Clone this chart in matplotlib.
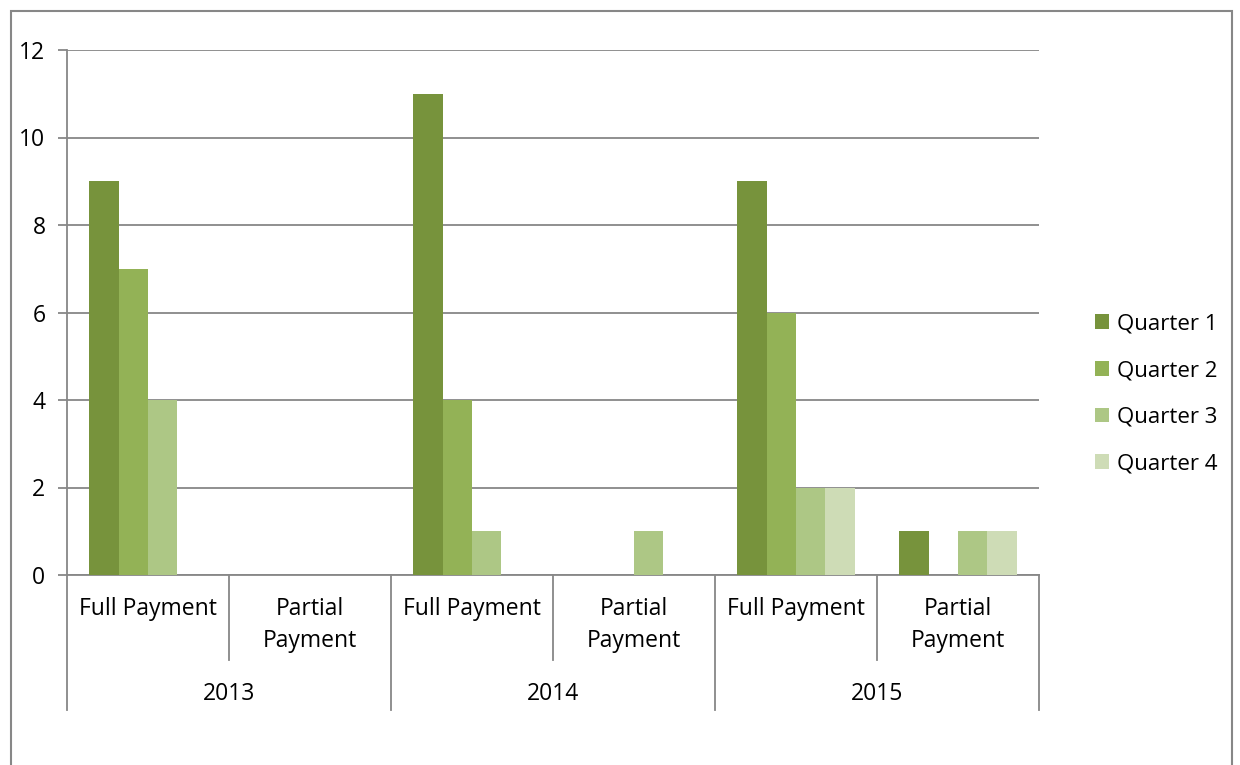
import matplotlib.pyplot as plt
from matplotlib.patches import Rectangle
from matplotlib.transforms import blended_transform_factory
import numpy as np

plt.rcParams['font.family'] = ['Open Sans', 'DejaVu Sans']

years = ["2013", "2014", "2015"]
payment_types = ["Full Payment", "Partial\nPayment"]
quarters = ["Quarter 1", "Quarter 2", "Quarter 3", "Quarter 4"]
# one value per (year, payment type) slot, in order 2013 full, 2013 partial, ...
q1 = [9, 0, 11, 0, 9, 1]
q2 = [7, 0, 4, 0, 6, 0]
q3 = [4, 0, 1, 1, 2, 1]
q4 = [0, 0, 0, 0, 2, 1]
colors = ["#77933C", "#93B256", "#ADC785", "#CEDCB6"]

W, H = 1240, 765
FS = 16.5
fig = plt.figure(figsize=(W / 100, H / 100), dpi=100)
ax = fig.add_axes([67 / W, 1 - 575 / H, (1039 - 67) / W, (575 - 50) / H])

series = [q1, q2, q3, q4]
n_slots = len(q1)
x = np.arange(n_slots)
bw = 1 / 5.5
for i, (vals, c, lab) in enumerate(zip(series, colors, quarters)):
    ax.bar(x + 0.75 * bw + i * bw, vals, width=bw, align='edge', color=c, label=lab,
           edgecolor='none', zorder=3)

ax.set_xlim(0, n_slots)
ax.set_ylim(0, 12)
ax.set_yticks(range(0, 13, 2))
ax.set_xticks([])
ax.grid(axis='y', color='#878787', linewidth=1.3, zorder=0)
for s in ['top', 'right']:
    ax.spines[s].set_visible(False)
for s in ['left', 'bottom']:
    ax.spines[s].set_color('#878787')
    ax.spines[s].set_linewidth(1.3)
ax.tick_params(axis='y', direction='out', length=6.5, width=1.3, color='#878787',
               labelsize=FS, pad=9)

# multi-level category axis
tr = blended_transform_factory(ax.transData, ax.transAxes)
px = 1 / (575 - 50)
for k in range(n_slots + 1):
    bottom = -(710 - 575) * px if k % 2 == 0 else -(660 - 575) * px
    ax.plot([k, k], [0, bottom], transform=tr, color='#878787', lw=1.3, clip_on=False)
for k in range(n_slots):
    ax.text(k + 0.5, -(597 - 575) * px, payment_types[k % 2], transform=tr,
            ha='center', va='top', fontsize=FS, linespacing=1.45)
for j, y in enumerate(years):
    ax.text(2 * j + 1, -(694 - 575) * px, y, transform=tr, ha='center', va='center',
            fontsize=FS)

ax.legend(loc='center left', bbox_to_anchor=(1075 / W, 1 - 394 / H),
          bbox_transform=fig.transFigure, frameon=False, fontsize=16,
          handlelength=0.65, handleheight=0.65, handletextpad=0.35, labelspacing=1.15)

fig.patches.append(Rectangle((11 / W, -0.01), (1232 - 11) / W, 1.01 - 11 / H,
                             transform=fig.transFigure, fill=False,
                             edgecolor='#878787', linewidth=1.5))

fig.savefig("out.png", dpi=100)
